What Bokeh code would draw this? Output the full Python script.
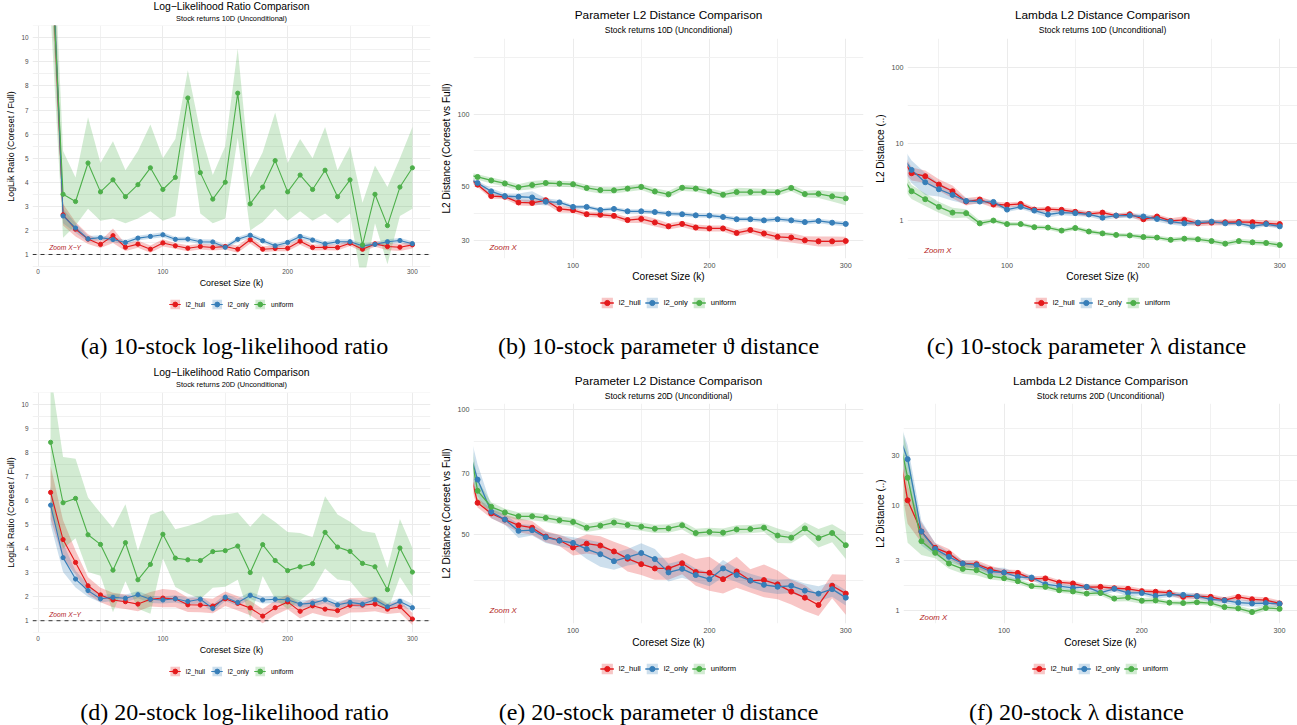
import numpy as np
from bokeh.plotting import figure
from bokeh.models import (ColumnDataSource, Range1d, FixedTicker, PrintfTickFormatter,
                          Legend, LegendItem, Span, Label)
from bokeh.layouts import column, row
from bokeh.embed import file_html
from bokeh.resources import INLINE

# ---------------------------------------------------------------- data
methods = ["l2_hull", "l2_only", "uniform"]
colors = ["#E41A1C", "#377EB8", "#4DAF4A"]

k_from10 = [10, 20, 30, 40, 50, 60, 70, 80, 90, 100, 110, 120, 130, 140, 150,
            160, 170, 180, 190, 200, 210, 220, 230, 240, 250, 260, 270, 280, 290, 300]
k_from20 = [20, 30, 40, 50, 60, 70, 80, 90, 100, 110, 120, 130, 140, 150,
            160, 170, 180, 190, 200, 210, 220, 230, 240, 250, 260, 270, 280, 290, 300]

# (a) 10D log-likelihood ratio
a_hull = [14.5, 2.65, 2.05, 1.64, 1.42, 1.78, 1.30, 1.43, 1.22, 1.48, 1.36, 1.26, 1.33, 1.29, 1.33,
          1.22, 1.61, 1.22, 1.25, 1.26, 1.55, 1.29, 1.30, 1.29, 1.47, 1.22, 1.44, 1.33, 1.30, 1.40]
a_hull_se = [2.0, 0.45, 0.30, 0.20, 0.15, 0.30, 0.15, 0.15, 0.15, 0.15, 0.12, 0.12, 0.12, 0.12, 0.12,
             0.15, 0.15, 0.12, 0.12, 0.12, 0.15, 0.12, 0.12, 0.12, 0.12, 0.12, 0.12, 0.15, 0.15, 0.15]
a_only = [15.0, 2.60, 2.10, 1.65, 1.70, 1.62, 1.50, 1.68, 1.75, 1.82, 1.63, 1.64, 1.53, 1.52, 1.30,
          1.63, 1.80, 1.57, 1.36, 1.50, 1.75, 1.60, 1.44, 1.53, 1.53, 1.36, 1.42, 1.53, 1.58, 1.45]
a_only_se = [2.0, 0.30, 0.20, 0.12, 0.10, 0.10, 0.10, 0.10, 0.10, 0.10, 0.10, 0.10, 0.10, 0.10, 0.10,
             0.10, 0.10, 0.10, 0.10, 0.10, 0.10, 0.10, 0.10, 0.10, 0.10, 0.10, 0.10, 0.10, 0.10, 0.10]
a_unif = [14.0, 3.5, 3.2, 4.8, 3.6, 4.1, 3.4, 3.9, 4.6, 3.7, 4.2, 7.5, 4.4, 3.3, 4.0,
          7.7, 3.1, 3.8, 4.9, 3.6, 4.3, 3.7, 4.5, 3.4, 4.1, 1.4, 3.5, 2.2, 3.8, 4.6]
a_unif_se = [3.0, 1.8, 1.0, 1.9, 1.2, 1.6, 1.1, 1.4, 1.8, 1.3, 1.6, 1.15, 1.7, 1.0, 1.5,
             1.85, 1.1, 1.45, 2.0, 1.2, 1.5, 1.3, 1.8, 1.1, 1.4, 1.75, 1.2, 1.6, 1.2, 1.7]

# (d) 20D log-likelihood ratio
d_hull = [6.33, 4.37, 3.42, 2.45, 2.07, 1.86, 1.79, 1.69, 1.89, 1.94, 1.91, 1.66, 1.65, 1.61, 1.91,
          1.72, 1.53, 1.19, 1.54, 1.78, 1.39, 1.62, 1.48, 1.42, 1.64, 1.65, 1.69, 1.48, 1.58, 1.07]
d_hull_se = [1.1, 0.8, 0.5, 0.35, 0.3, 0.3, 0.3, 0.3, 0.3, 0.38, 0.35, 0.3, 0.3, 0.3, 0.3,
             0.3, 0.3, 0.3, 0.3, 0.3, 0.3, 0.3, 0.3, 0.3, 0.3, 0.3, 0.3, 0.2, 0.25, 0.25]
d_only = [5.80, 3.62, 2.73, 2.25, 1.91, 1.97, 1.93, 2.08, 1.89, 1.86, 1.91, 1.80, 1.89, 1.51, 1.97,
          1.76, 2.05, 1.86, 1.89, 1.87, 1.69, 1.73, 1.87, 1.66, 1.76, 1.69, 1.87, 1.58, 1.80, 1.54]
d_only_se = [0.8, 0.6, 0.35, 0.25, 0.15, 0.15, 0.15, 0.15, 0.15, 0.15, 0.15, 0.15, 0.15, 0.15, 0.15,
             0.15, 0.15, 0.15, 0.15, 0.15, 0.15, 0.15, 0.15, 0.15, 0.15, 0.15, 0.15, 0.15, 0.15, 0.15]
d_unif = [8.41, 5.90, 6.08, 4.57, 4.17, 3.10, 4.24, 2.70, 3.34, 4.59, 3.60, 3.53, 3.50, 3.87, 3.91,
          4.10, 3.00, 4.16, 3.50, 3.08, 3.24, 3.37, 4.67, 4.06, 3.88, 3.38, 3.24, 2.29, 4.02, 3.02]
d_unif_se = [2.9, 1.9, 1.65, 1.55, 1.3, 1.75, 1.6, 1.2, 2.05, 1.0, 1.2, 1.4, 1.6, 1.5, 1.5,
             1.4, 1.9, 1.3, 1.6, 1.6, 1.4, 1.1, 1.5, 1.35, 1.23, 1.35, 1.4, 0.9, 1.2, 1.0]

# (b) 10D parameter L2 distance
b_hull = [56.0, 51.1, 45.8, 45.5, 43.1, 42.9, 44.0, 40.5, 40.0, 38.5, 38.3, 37.9, 36.4, 36.8, 35.6,
          34.3, 35.1, 33.9, 33.6, 33.6, 32.2, 33.1, 32.0, 31.0, 30.8, 30.0, 29.7, 29.7, 29.8]
b_hull_se = [1.5, 1.2, 1.2, 1.0, 1.2, 1.2, 1.4, 1.4, 1.0, 1.0, 1.0, 1.0, 1.0, 1.4, 1.4,
             1.0, 1.0, 1.0, 1.0, 1.0, 1.0, 1.0, 1.2, 1.2, 1.4, 1.2, 1.4, 1.4, 1.2]
b_only = [55.5, 51.9, 47.9, 45.8, 45.5, 45.2, 43.4, 43.1, 41.3, 41.3, 40.1, 40.5, 39.6, 39.6, 39.3,
          38.7, 38.5, 38.1, 38.0, 37.5, 36.7, 36.7, 36.3, 36.7, 36.3, 35.7, 36.1, 35.5, 35.1]
b_only_se = [1.5, 1.2, 1.5, 1.2, 1.5, 2.8, 1.5, 1.0, 0.8, 0.8, 0.8, 0.8, 0.8, 0.8, 0.8,
             0.8, 0.8, 0.8, 0.8, 0.8, 0.8, 0.8, 0.8, 0.8, 0.8, 0.8, 0.8, 0.8, 0.8]
b_unif = [56.5, 55.0, 53.2, 51.7, 49.8, 50.9, 51.9, 51.6, 51.3, 49.5, 48.5, 48.4, 49.2, 50.0, 47.9,
          46.6, 49.6, 49.2, 47.9, 46.4, 47.6, 47.6, 47.6, 47.5, 49.5, 46.7, 46.8, 45.7, 44.8]
b_unif_se = [1.5, 1.5, 1.5, 1.5, 1.5, 2.0, 1.5, 1.5, 1.5, 1.5, 1.5, 1.5, 1.5, 1.5, 1.5,
             1.5, 1.5, 1.5, 1.5, 1.5, 2.0, 1.8, 1.5, 1.5, 1.5, 1.5, 1.8, 2.2, 2.8]

# (c) 10D lambda L2 distance
c_hull = [7.7, 4.14, 3.79, 2.95, 2.41, 1.77, 1.88, 1.62, 1.60, 1.65, 1.39, 1.41, 1.38, 1.30, 1.22,
          1.27, 1.16, 1.21, 1.04, 1.13, 0.99, 1.02, 0.92, 0.94, 0.95, 0.96, 0.95, 0.92, 0.90]
c_hull_se = [2.5, 0.8, 0.7, 0.5, 0.45, 0.2, 0.18, 0.15, 0.12, 0.12, 0.1, 0.1, 0.1, 0.1, 0.1,
             0.08, 0.08, 0.08, 0.08, 0.08, 0.08, 0.12, 0.08, 0.08, 0.08, 0.08, 0.08, 0.08, 0.08]
c_only = [8.3, 4.58, 3.16, 2.56, 2.16, 1.80, 1.77, 1.75, 1.39, 1.51, 1.35, 1.20, 1.27, 1.25, 1.20,
          1.09, 1.16, 1.16, 1.13, 1.05, 0.97, 0.92, 0.94, 0.97, 0.92, 0.92, 0.84, 0.90, 0.84]
c_only_se = [3.0, 1.5, 1.0, 0.5, 0.35, 0.15, 0.12, 0.12, 0.1, 0.1, 0.1, 0.1, 0.1, 0.1, 0.08,
             0.08, 0.08, 0.08, 0.1, 0.08, 0.08, 0.08, 0.06, 0.06, 0.06, 0.06, 0.06, 0.06, 0.06]
c_unif = [4.6, 2.41, 1.90, 1.51, 1.27, 1.25, 0.92, 1.00, 0.90, 0.90, 0.82, 0.81, 0.74, 0.80, 0.72,
          0.68, 0.65, 0.64, 0.61, 0.60, 0.56, 0.58, 0.57, 0.54, 0.50, 0.54, 0.52, 0.51, 0.48]
c_unif_se = [1.5, 0.5, 0.35, 0.25, 0.2, 0.15, 0.08, 0.06, 0.06, 0.05, 0.05, 0.05, 0.05, 0.05, 0.05,
             0.04, 0.04, 0.04, 0.05, 0.04, 0.04, 0.04, 0.04, 0.04, 0.04, 0.04, 0.04, 0.04, 0.04]

# (e) 20D parameter L2 distance
e_hull = [81.0, 59.5, 56.1, 54.2, 52.5, 51.8, 49.3, 48.3, 46.4, 47.4, 46.9, 45.4, 43.6, 42.3, 41.3,
          41.3, 42.5, 40.5, 40.3, 38.9, 40.6, 38.6, 38.7, 37.8, 36.3, 35.1, 33.7, 37.5, 35.9]
e_hull_se = [8.0, 1.5, 1.5, 1.5, 2.0, 2.0, 1.5, 1.5, 2.0, 2.5, 2.5, 2.5, 3.0, 2.5, 2.5,
             2.5, 2.5, 3.0, 3.8, 3.0, 3.5, 2.5, 3.5, 3.0, 2.5, 2.5, 2.0, 2.5, 4.0]
e_only = [88.0, 67.7, 56.6, 54.2, 50.9, 51.1, 49.1, 48.2, 47.6, 46.0, 44.7, 43.0, 44.0, 45.0, 43.5,
          40.4, 41.2, 39.8, 38.9, 41.3, 39.8, 38.6, 37.7, 37.3, 37.5, 36.5, 35.9, 36.8, 35.1]
e_only_se = [12.0, 6.0, 2.0, 1.5, 2.0, 1.5, 1.5, 1.5, 1.5, 2.5, 3.0, 2.0, 2.0, 2.5, 2.5,
             2.0, 2.0, 1.5, 1.5, 2.0, 1.5, 1.5, 1.5, 1.5, 1.5, 1.5, 1.5, 1.5, 1.5]
e_unif = [97.0, 63.6, 58.2, 56.4, 55.2, 55.2, 54.7, 54.0, 53.5, 51.8, 52.4, 53.3, 52.6, 52.1, 51.5,
          51.6, 52.5, 50.3, 50.6, 50.4, 51.3, 51.4, 51.8, 49.6, 49.0, 51.6, 48.9, 50.3, 47.0]
e_unif_se = [10.0, 4.0, 1.5, 1.2, 1.2, 1.2, 1.2, 1.2, 1.2, 1.2, 1.2, 1.5, 1.2, 1.2, 1.2,
             1.2, 1.2, 1.2, 1.2, 1.2, 1.2, 1.2, 1.2, 2.0, 1.5, 1.8, 2.5, 2.5, 3.5]

# (f) 20D lambda L2 distance
f_hull = [67.0, 11.2, 5.64, 3.94, 3.48, 2.79, 2.75, 2.45, 2.29, 2.27, 1.99, 2.01, 1.84, 1.80, 1.66,
          1.67, 1.62, 1.60, 1.52, 1.50, 1.47, 1.34, 1.36, 1.34, 1.25, 1.34, 1.27, 1.25, 1.16]
f_hull_se = [30.0, 4.5, 1.2, 0.45, 0.35, 0.2, 0.25, 0.2, 0.15, 0.15, 0.12, 0.12, 0.1, 0.1, 0.1,
             0.1, 0.1, 0.1, 0.08, 0.08, 0.08, 0.08, 0.08, 0.08, 0.08, 0.08, 0.08, 0.08, 0.08]
f_only = [64.0, 27.7, 5.64, 3.85, 3.23, 2.79, 2.69, 2.34, 2.29, 2.08, 2.05, 1.77, 1.70, 1.63, 1.67,
          1.47, 1.60, 1.46, 1.46, 1.37, 1.41, 1.40, 1.36, 1.27, 1.24, 1.18, 1.16, 1.17, 1.15]
f_only_se = [30.0, 10.0, 1.5, 0.5, 0.35, 0.2, 0.2, 0.2, 0.25, 0.15, 0.12, 0.1, 0.1, 0.1, 0.1,
             0.1, 0.1, 0.1, 0.08, 0.08, 0.08, 0.08, 0.08, 0.08, 0.08, 0.08, 0.08, 0.08, 0.08]
f_unif = [79.0, 18.4, 4.56, 3.53, 2.79, 2.48, 2.41, 2.11, 2.02, 1.89, 1.70, 1.67, 1.55, 1.51, 1.44,
          1.46, 1.29, 1.32, 1.23, 1.24, 1.18, 1.17, 1.19, 1.17, 1.07, 1.04, 0.96, 1.05, 1.03]
f_unif_se = [35.0, 14.0, 1.2, 0.4, 0.3, 0.25, 0.25, 0.15, 0.12, 0.1, 0.1, 0.1, 0.08, 0.08, 0.08,
             0.08, 0.08, 0.1, 0.08, 0.08, 0.06, 0.06, 0.06, 0.06, 0.06, 0.06, 0.06, 0.06, 0.06]

# axis ticks
x_ticks = [0, 100, 200, 300]
x_minor = [50, 150, 250]
ll_ticks = [1, 2, 3, 4, 5, 6, 7, 8, 9, 10]
ll_minor = [0.5, 1.5, 2.5, 3.5, 4.5, 5.5, 6.5, 7.5, 8.5, 9.5, 10.5]
b_ticks, b_minor = [30, 50, 100], [38.7, 70.7, 173.2]
c_ticks, c_minor = [1, 10, 100], [0.316, 3.16, 31.6]
e_ticks, e_minor = [30, 50, 70, 100], [38.7, 59.2, 83.7]
f_ticks, f_minor = [0.3, 1, 3, 10, 30, 100], [0.548, 1.73, 5.48, 17.3, 54.8]
ref_level = 1

title_ll = "Log\u2212Likelihood Ratio Comparison"
title_par = "Parameter L2 Distance Comparison"
title_lam = "Lambda L2 Distance Comparison"
sub10 = "Stock returns 10D (Unconditional)"
sub20 = "Stock returns 20D (Unconditional)"

SANS = "Liberation Sans"
SERIF = "Liberation Serif"


def frac_to_data(r0, r1, f, log):
    if log:
        return 10 ** (np.log10(r0) + f * (np.log10(r1) - np.log10(r0)))
    return r0 + f * (r1 - r0)


def blank_fig(w, h, bl, br):
    # strip whose frame coincides horizontally with the panel's plotting frame;
    # x coordinates are pixels measured from the frame's left edge
    return figure(width=w, height=h, x_range=Range1d(0, w - bl - br), y_range=Range1d(0, h),
                  x_axis_type=None, y_axis_type=None, output_backend="svg", toolbar_location=None,
                  min_border_left=bl, min_border_right=br, min_border_top=0, min_border_bottom=0,
                  outline_line_color=None, background_fill_color="white",
                  border_fill_color="white")


def make_panel(c):
    big = c["big"]
    fs = dict(title=11.8 if big else 10.4, sub=8.5 if big else 7.4, axis=10.1 if big else 8.9,
              tick=7.2 if big else 6.4, legend=7.6 if big else 6.7, note=7.8 if big else 6.7)
    lw = 1.3 if big else 1.1
    ms = 5.0 if big else 4.2
    x0, x1 = c["xr"]
    y0, y1 = c["yr"]
    log = c["log"]
    w, bl, br = c["w"], c["bl"], c["br"]

    # ---- title strip
    th = c["top_h"]
    tfig = blank_fig(w, th, bl, br)
    tx = 0.5 * (w - bl - br)
    tfig.add_layout(Label(x=tx, y=th - c["title_y"], text=c["title"], text_font=SANS,
                          text_font_size=f"{fs['title']}px", text_color="black",
                          text_align="center", text_baseline="middle"))
    tfig.add_layout(Label(x=tx, y=th - c["sub_y"], text=c["subtitle"], text_font=SANS,
                          text_font_size=f"{fs['sub']}px", text_color="black",
                          text_align="center", text_baseline="middle"))

    # ---- main plot
    p = figure(width=w, height=c["main_h"], x_range=Range1d(x0, x1), y_range=Range1d(y0, y1),
               y_axis_type="log" if log else "linear", title=None,
               output_backend="svg", toolbar_location=None,
               min_border_left=bl, min_border_right=br,
               min_border_top=0, min_border_bottom=c["main_h"] - c["frame_h"],
               outline_line_color=None, background_fill_color="white", border_fill_color="white")
    xa, ya = p.xaxis[0], p.yaxis[0]
    xa.ticker = FixedTicker(ticks=x_ticks, minor_ticks=x_minor)
    ya.ticker = FixedTicker(ticks=c["yt"], minor_ticks=c["ym"])
    for ax in (xa, ya):
        ax.formatter = PrintfTickFormatter(format="%d")
        ax.axis_line_color = None
        ax.major_tick_line_color = None
        ax.minor_tick_line_color = None
        ax.major_tick_out = 0
        ax.major_tick_in = 0
        ax.minor_tick_out = 0
        ax.minor_tick_in = 0
        ax.major_label_text_font = SANS
        ax.major_label_text_font_size = f"{fs['tick']}px"
        ax.major_label_text_color = "#4D4D4D"
        ax.axis_label_text_font = SANS
        ax.axis_label_text_font_size = f"{fs['axis']}px"
        ax.axis_label_text_font_style = "normal"
        ax.axis_label_text_color = "black"
    xa.axis_label = "Coreset Size (k)"
    ya.axis_label = c["ylabel"]
    xa.major_label_standoff = c["x_mls"]
    xa.axis_label_standoff = c["x_als"]
    ya.major_label_standoff = c["y_mls"]
    ya.axis_label_standoff = c["y_als"]
    for g in (p.xgrid[0], p.ygrid[0]):
        g.grid_line_color = "#EBEBEB"
        g.grid_line_width = 1
        g.minor_grid_line_color = "#F1F1F1"
        g.minor_grid_line_width = 1

    srcs = []
    for m in methods:
        mean = np.array(c["mean"][m], dtype=float)
        se = np.array(c["se"][m], dtype=float)
        lo = mean - se
        if log:
            lo = np.maximum(lo, y0 * 0.3)
        srcs.append(ColumnDataSource(dict(k=c["k"], mean=mean, lo=lo, hi=mean + se)))
    for s, col in zip(srcs, colors):
        p.varea(x="k", y1="lo", y2="hi", source=s, fill_color=col, fill_alpha=0.25)
    for s, col in zip(srcs, colors):
        p.line("k", "mean", source=s, line_color=col, line_width=lw)
    for s, col in zip(srcs, colors):
        p.scatter("k", "mean", source=s, marker="circle", size=ms, fill_color=col, line_color=col)

    if c.get("ref") is not None:
        p.add_layout(Span(location=c["ref"], dimension="width", line_color="#333333",
                          line_dash="4 4", line_width=1))
    fx, fy = c["note_pos"]
    p.add_layout(Label(x=frac_to_data(x0, x1, fx, False), y=frac_to_data(y0, y1, fy, log),
                       text=c["note"], text_font=SANS, text_font_size=f"{fs['note']}px",
                       text_font_style="italic", text_color="#B22222",
                       text_align="center", text_baseline="middle"))

    # ---- legend strip (keys come from proxy renderers of the same sources,
    #      drawn outside the strip's visible x range)
    lh = c["leg_h"]
    lfig = figure(width=w, height=lh, x_range=Range1d(-30, -20), y_range=Range1d(0, 1),
                  x_axis_type=None, y_axis_type=None, output_backend="svg", toolbar_location=None,
                  min_border_left=bl, min_border_right=br, min_border_top=0,
                  min_border_bottom=0, outline_line_color=None,
                  background_fill_color="white", border_fill_color="white")
    items = []
    for m, s, col in zip(methods, srcs, colors):
        rb = lfig.varea(x="k", y1="lo", y2="hi", source=s, fill_color=col, fill_alpha=0.25)
        rl = lfig.line("k", "mean", source=s, line_color=col, line_width=lw)
        rp = lfig.scatter("k", "mean", source=s, marker="circle", size=ms,
                          fill_color=col, line_color=col)
        items.append(LegendItem(label=m, renderers=[rb, rl, rp]))
    gw, gh = (14, 13) if big else (12, 12)
    lfig.add_layout(Legend(items=items, orientation="horizontal", location="top_center",
                           glyph_width=gw, glyph_height=gh, label_standoff=5,
                           spacing=4 if big else 5, padding=0, margin=c["leg_top"],
                           border_line_color=None, background_fill_alpha=0,
                           label_text_font=SANS, label_text_font_size=f"{fs['legend']}px",
                           label_text_color="black", label_height=gh), "center")

    # ---- caption strip
    ch = c["cap_h"]
    cfig = blank_fig(w, ch, bl, br)
    cfig.add_layout(Label(x=c["cap_x"] - bl, y=ch - c["cap_y"], text=c["caption"],
                          text_font=SERIF, text_font_size="24px", text_align="center",
                          text_baseline="middle", text_color="black"))
    return column(tfig, p, lfig, cfig, spacing=0)


common_small = dict(big=False, xr=(-4.5, 314.5), log=False, yt=ll_ticks, ym=ll_minor,
                    title=title_ll, ylabel="LogLik Ratio (Coreset / Full)", note="Zoom X\u2212Y",
                    ref=ref_level, k=k_from10, y_mls=4, y_als=2, w=432, bl=32, br=2)
common_big = dict(big=True, xr=(27, 313), log=True, k=k_from20, note="Zoom X", ref=None,
                  y_mls=4, y_als=3)

cfg_a = dict(common_small, yr=(0.46, 10.51), subtitle=sub10, note_pos=(0.082, 0.081),
             top_h=25, title_y=6, sub_y=18, main_h=270, frame_h=242, leg_h=30, leg_top=3,
             cap_h=40, cap_y=20, cap_x=234, caption="(a) 10-stock log-likelihood ratio",
             x_mls=1, x_als=1,
             mean={"l2_hull": a_hull, "l2_only": a_only, "uniform": a_unif},
             se={"l2_hull": a_hull_se, "l2_only": a_only_se, "uniform": a_unif_se})
cfg_d = dict(common_small, yr=(0.51, 10.48), subtitle=sub20, note_pos=(0.082, 0.077),
             top_h=27, title_y=7, sub_y=19, main_h=268, frame_h=240, leg_h=30, leg_top=5,
             cap_h=35, cap_y=21, cap_x=234, caption="(d) 20-stock log-likelihood ratio",
             x_mls=3, x_als=1,
             mean={"l2_hull": d_hull, "l2_only": d_only, "uniform": d_unif},
             se={"l2_hull": d_hull_se, "l2_only": d_only_se, "uniform": d_unif_se})
cfg_b = dict(common_big, w=433, bl=41, br=2, yr=(25.2, 207.0), yt=b_ticks, ym=b_minor,
             title=title_par, subtitle=sub10, ylabel="L2 Distance (Coreset vs Full)",
             note_pos=(0.076, 0.049), top_h=38, title_y=14, sub_y=29, main_h=248, frame_h=220,
             leg_h=39, leg_top=10, cap_h=40, cap_y=20, cap_x=226,
             caption="(b) 10-stock parameter \u03d1 distance", x_mls=4, x_als=0,
             mean={"l2_hull": b_hull, "l2_only": b_only, "uniform": b_unif},
             se={"l2_hull": b_hull_se, "l2_only": b_only_se, "uniform": b_unif_se})
cfg_c = dict(common_big, w=432, bl=42, br=0, yr=(0.32, 237.0), yt=c_ticks, ym=c_minor,
             title=title_lam, subtitle=sub10, ylabel="L2 Distance (..)",
             note_pos=(0.078, 0.036), top_h=38, title_y=14, sub_y=29, main_h=248, frame_h=220,
             leg_h=39, leg_top=10, cap_h=40, cap_y=20, cap_x=221,
             caption="(c) 10-stock parameter \u03bb distance", x_mls=4, x_als=0,
             mean={"l2_hull": c_hull, "l2_only": c_only, "uniform": c_unif},
             se={"l2_hull": c_hull_se, "l2_only": c_only_se, "uniform": c_unif_se})
cfg_e = dict(common_big, w=433, bl=41, br=2, yr=(30.4, 103.4), yt=e_ticks, ym=e_minor,
             title=title_par, subtitle=sub20, ylabel="L2 Distance (Coreset vs Full)",
             note_pos=(0.076, 0.06), top_h=38, title_y=15, sub_y=30, main_h=248, frame_h=220,
             leg_h=39, leg_top=11, cap_h=35, cap_y=21, cap_x=226,
             caption="(e) 20-stock parameter \u03d1 distance", x_mls=4, x_als=1,
             mean={"l2_hull": e_hull, "l2_only": e_only, "uniform": e_unif},
             se={"l2_hull": e_hull_se, "l2_only": e_only_se, "uniform": e_unif_se})
cfg_f = dict(common_big, w=432, bl=38, br=0, yr=(0.746, 94.2), yt=f_ticks, ym=f_minor,
             title=title_lam, subtitle=sub20, ylabel="L2 Distance (..)",
             note_pos=(0.076, 0.027), top_h=38, title_y=15, sub_y=30, main_h=248, frame_h=220,
             leg_h=39, leg_top=11, cap_h=35, cap_y=21, cap_x=211,
             caption="(f) 20-stock \u03bb distance", x_mls=4, x_als=1,
             mean={"l2_hull": f_hull, "l2_only": f_only, "uniform": f_unif},
             se={"l2_hull": f_hull_se, "l2_only": f_only_se, "uniform": f_unif_se})

row1 = row(make_panel(cfg_a), make_panel(cfg_b), make_panel(cfg_c), spacing=0)
row2 = row(make_panel(cfg_d), make_panel(cfg_e), make_panel(cfg_f), spacing=0)
layout = column(row1, row2, spacing=0)

open("out.html", "w").write(file_html(layout, INLINE))
